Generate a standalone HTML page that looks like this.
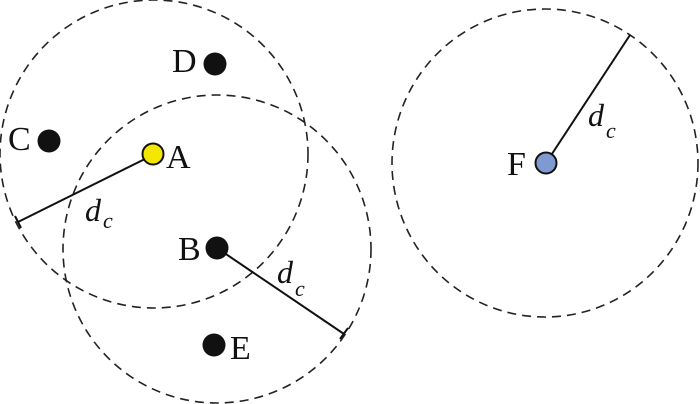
<!DOCTYPE html>
<html><head><meta charset="utf-8"><style>
html,body{margin:0;padding:0;background:#fff;width:700px;height:404px;overflow:hidden}
text{font-family:"Liberation Serif",serif;fill:#111}
</style></head><body>
<svg width="700" height="404" viewBox="0 0 700 404" xmlns="http://www.w3.org/2000/svg">
<g fill="none" stroke="#222" stroke-width="1.6" stroke-dasharray="9,6">
<ellipse cx="154" cy="154" rx="154" ry="154"/>
<ellipse cx="217" cy="249" rx="154" ry="154"/>
<ellipse cx="545" cy="163" rx="153" ry="154"/>
</g>
<g stroke="#111" stroke-width="2" fill="none">
<line x1="153" y1="155" x2="18" y2="222"/>
<line x1="15" y1="216" x2="21" y2="228"/>
<line x1="217" y1="248" x2="344" y2="334"/>
<line x1="340" y1="339" x2="348" y2="328"/>
<line x1="546" y1="163" x2="630" y2="35"/>
</g>
<g fill="#111">
<circle cx="215" cy="64" r="11.5"/>
<circle cx="49" cy="141" r="11.5"/>
<circle cx="217" cy="248" r="11.5"/>
<circle cx="214" cy="345" r="11.5"/>
</g>
<circle cx="153" cy="154" r="10.5" fill="#f3e600" stroke="#111" stroke-width="2"/>
<circle cx="546" cy="163" r="10.5" fill="#7f9ad0" stroke="#111" stroke-width="2"/>
<g font-size="34">
<text x="172" y="72">D</text>
<text x="8" y="150">C</text>
<text x="166" y="168">A</text>
<text x="178" y="260">B</text>
<text x="230" y="359">E</text>
<text x="507" y="175">F</text>
</g>
<g font-style="italic">
<text x="85" y="221" font-size="32">d</text><text x="103" y="228" font-size="22">c</text>
<text x="277" y="283" font-size="32">d</text><text x="295" y="296" font-size="22">c</text>
<text x="588" y="126" font-size="32">d</text><text x="606" y="138" font-size="22">c</text>
</g>
</svg>
</body></html>
